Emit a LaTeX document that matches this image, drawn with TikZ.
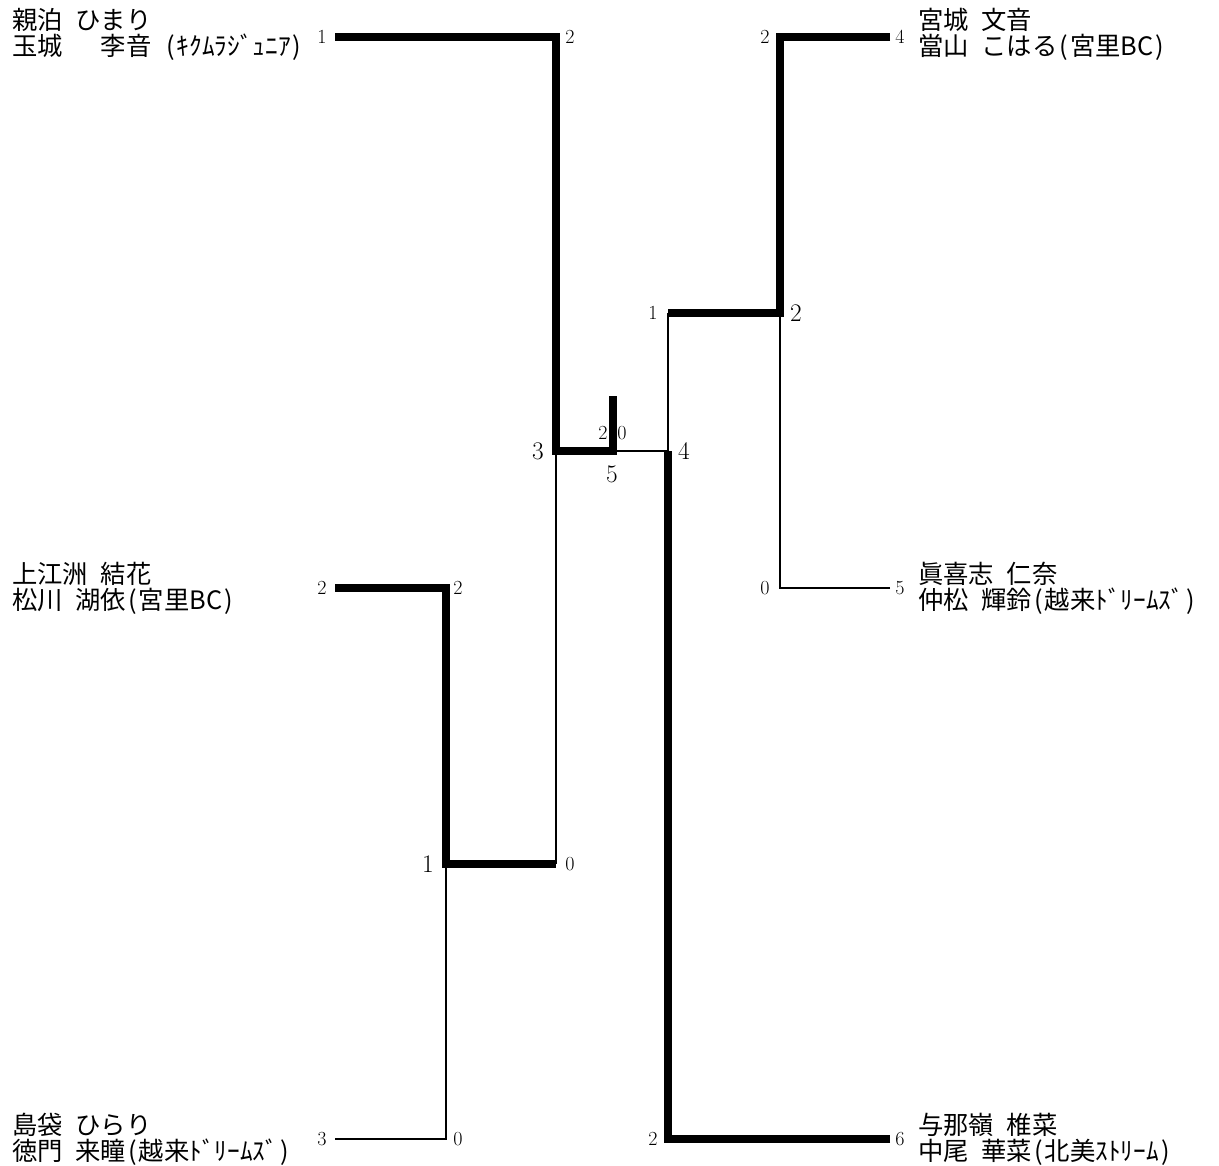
\documentclass[tikz,border=0pt]{standalone}
\usepackage{fontspec}
\newfontfamily\jp{Noto Sans CJK JP}
\usetikzlibrary{positioning}
\newcommand{\gap}{\hspace{0.5em}}
\newcommand{\lp}{\makebox[0.5em][c]{(}}
\newcommand{\rp}{\makebox[0.5em][c]{)}}

\begin{document}
\begin{tikzpicture}[
    x=0.75pt, y=-0.75pt,
    win/.style={line width=6.5pt},
    lose/.style={line width=2.2pt},
    player/.style={anchor=west, align=left, inner sep=0pt, font=\jp\fontsize{19}{19.5}\selectfont},
    score/.style={inner sep=0pt, font=\fontsize{15}{15}\selectfont},
    matchno/.style={inner sep=0pt, font=\fontsize{19}{19}\selectfont}
]
\useasboundingbox (0,0) rectangle (1219,1165);

% players
\node[player] (pA) at (12,34) {親泊\gap ひまり\\玉城　\gap 李音\gap\lp ｷｸﾑﾗｼﾞｭﾆｱ\rp};
\node[player] (pB) at (12,588) {上江洲\gap 結花\\松川\gap 湖依\lp 宮里BC\rp};
\node[player] (pC) at (12,1139) {島袋\gap ひらり\\徳門\gap 来瞳\lp 越来ﾄﾞﾘｰﾑｽﾞ\rp};
\node[player] (pD) at (918,34) {宮城\gap 文音\\當山\gap こはる\lp 宮里BC\rp};
\node[player] (pE) at (918,588) {眞喜志\gap 仁奈\\仲松\gap 輝鈴\lp 越来ﾄﾞﾘｰﾑｽﾞ\rp};
\node[player] (pF) at (918,1139) {与那嶺\gap 椎菜\\中尾\gap 華菜\lp 北美ｽﾄﾘｰﾑ\rp};

% bracket points
\coordinate (A) at (335,37);
\coordinate (B) at (335,588);
\coordinate (C) at (335,1139);
\coordinate (D) at (890,37);
\coordinate (E) at (890,588);
\coordinate (F) at (890,1139);
\coordinate (m1) at (446,864);
\coordinate (m1o) at (556,864);
\coordinate (m3) at (556,451);
\coordinate (m2) at (780,313);
\coordinate (m2o) at (668,313);
\coordinate (m4) at (668,451);
\coordinate (fin) at (613,451);
\coordinate (top) at (613,396);

\draw[lose] (C) -| (m1);
\draw[lose] (m1o) -- (m3);
\draw[lose] (E) -| (m2);
\draw[lose] (m2o) -- (m4);
\draw[lose] (m4) -- (fin);
\draw[win] (B) -| (m1) -- (m1o);
\draw[win] (A) -| (m3) -- (fin) -- (top);
\draw[win] (D) -| (m2) -- (m2o);
\draw[win] (F) -| (m4);

% scores
\node[score] (sA) at (322,37) {1};
\node[score] (sA2) at (570,37) {2};
\node[score] (sB) at (322,588) {2};
\node[score] (sB2) at (458,588) {2};
\node[score] (sM1) at (570,864) {0};
\node[score] (sC) at (322,1139) {3};
\node[score] (sC2) at (458,1139) {0};
\node[score] (sD2) at (765,37) {2};
\node[score] (sD) at (900,37) {4};
\node[score] (sM2) at (653,313) {1};
\node[score] (sE2) at (765,588) {0};
\node[score] (sE) at (900,588) {5};
\node[score] (sF2) at (653,1139) {2};
\node[score] (sF) at (900,1139) {6};
\node[score] (sL) at (603,433) {2};
\node[score] (sR) at (622,433) {0};

% match numbers
\node[matchno] (n1) at (428,864) {1};
\node[matchno] (n2) at (796,313) {2};
\node[matchno] (n3) at (538,451) {3};
\node[matchno] (n4) at (684,451) {4};
\node[matchno] (n5) at (612,474) {5};
\end{tikzpicture}
\end{document}
